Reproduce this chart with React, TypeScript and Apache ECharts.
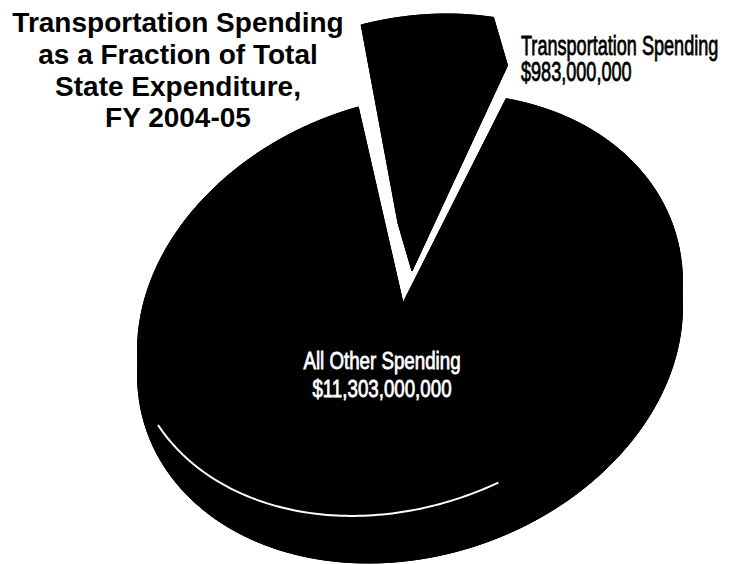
import React, { useEffect, useRef } from "react";
import * as echarts from "echarts";

// ---- data ----
const titleLines = ["Transportation Spending", "as a Fraction of Total", "State Expenditure,", "FY 2004-05"];
const categories = ["Transportation Spending", "All Other Spending"];
const values = [983000000, 11303000000];

// ---- geometry of the tilted 3D pie (ellipse of the top face) ----
const CX = 410;
const CY = 316;
const RX = 278;
const RY = 215;
const ROT = -18.3; // degrees, rotation of the ellipse on screen
const APEX = [-7, -13]; // apex of the slices relative to ellipse centre
const START = -85.2; // start angle of first slice (ellipse frame, clockwise)
const GAPS = [0.3, 1.4];
const EXPLODE = [
  [-5, -80],
  [0, 0],
];
const DEPTH = [
  [14, 48],
  [0, 25],
];
const HL = { dx: -10, dy: -25, rot: -22, from: 86, to: 171 };

const LABELS = [
  { x: 521, y: 58.5, align: "left", size: 27, scaleX: 0.67, lh: 26, color: "#000" },
  { x: 382, y: 375.6, align: "center", size: 24, scaleX: 0.78, lh: 28, color: "#fff" },
];

const FONT = "'Liberation Sans', Arial, Helvetica, sans-serif";

function pt(tDeg: number, ox: number, oy: number, cx = CX, cy = CY, rot = ROT): number[] {
  const t = (tDeg * Math.PI) / 180;
  const r = (rot * Math.PI) / 180;
  const ex = RX * Math.cos(t);
  const ey = RY * Math.sin(t);
  return [cx + ox + ex * Math.cos(r) - ey * Math.sin(r), cy + oy + ex * Math.sin(r) + ey * Math.cos(r)];
}

function arc(t1: number, t2: number, ox: number, oy: number, cx = CX, cy = CY, rot = ROT): number[][] {
  const pts: number[][] = [];
  const n = Math.max(2, Math.ceil(Math.abs(t2 - t1)));
  for (let k = 0; k <= n; k++) pts.push(pt(t1 + ((t2 - t1) * k) / n, ox, oy, cx, cy, rot));
  return pts;
}

const total = values.reduce((a, b) => a + b, 0);
const fmt = (v: number) => "$" + v.toLocaleString("en-US");

function renderItem(params: any, api: any) {
  const i = params.dataIndex;
  const v = api.value(0) as number;
  let before = 0;
  for (let j = 0; j < i; j++) before += values[j];
  const t1 = START + (before / total) * 360 + GAPS[i];
  const t2 = START + ((before + v) / total) * 360 - GAPS[i];
  const [ex, ey] = EXPLODE[i];
  const [dx, dy] = DEPTH[i];
  const ax = CX + APEX[0] + ex;
  const ay = CY + APEX[1] + ey;
  const top = arc(t1, t2, ex, ey);
  const bot = arc(t1, t2, ex + dx, ey + dy);
  const z = i === 0 ? 1 : 5;
  const style = { fill: "#000", stroke: "#000", lineWidth: 1, lineJoin: "round" };
  const poly = (points: number[][]) => ({ type: "polygon", shape: { points }, style, z2: z, silent: true });
  const children: any[] = [
    poly([[ax + dx, ay + dy], ...bot]),
    poly([...top, ...bot.slice().reverse()]),
    poly([[ax, ay], top[0], bot[0], [ax + dx, ay + dy]]),
    poly([[ax, ay], top[top.length - 1], bot[bot.length - 1], [ax + dx, ay + dy]]),
    poly([[ax, ay], ...top]),
  ];
  if (i === 1) {
    children.push({
      type: "polyline",
      shape: { points: arc(HL.from, HL.to, 0, 0, CX + HL.dx, CY + HL.dy, HL.rot) },
      style: { stroke: "#fff", lineWidth: 2, fill: null },
      z2: 8,
      silent: true,
    });
  }
  const L = LABELS[i];
  children.push({
    type: "text",
    x: L.x,
    y: L.y,
    scaleX: L.scaleX,
    z2: 10,
    silent: true,
    style: {
      text: categories[i] + "\n" + fmt(v),
      fill: L.color,
      stroke: L.color,
      lineWidth: 0.8,
      fontSize: L.size,
      fontFamily: FONT,
      align: L.align,
      verticalAlign: "middle",
      lineHeight: L.lh,
    },
  });
  return { type: "group", children };
}

const option: any = {
  animation: false,
  backgroundColor: "#fff",
  title: {
    text: titleLines.join("\n"),
    left: 178,
    top: 7,
    padding: 0,
    textAlign: "center",
    textStyle: {
      fontFamily: FONT,
      fontWeight: "bold",
      fontSize: 28,
      lineHeight: 31.7,
      color: "#000",
    },
  },
  series: [
    {
      type: "custom",
      coordinateSystem: "none",
      silent: true,
      renderItem,
      data: values.map((v, i) => ({ name: categories[i], value: v })),
    },
  ],
};

export default function App() {
  const ref = useRef<HTMLDivElement>(null);
  useEffect(() => {
    const chart = echarts.init(ref.current!, null, { renderer: "svg" });
    chart.setOption(option);
    return () => chart.dispose();
  }, []);
  return (
    <div
      ref={ref}
      style={{ position: "fixed", left: 0, top: 0, width: 742, height: 564, background: "#fff" }}
    />
  );
}
